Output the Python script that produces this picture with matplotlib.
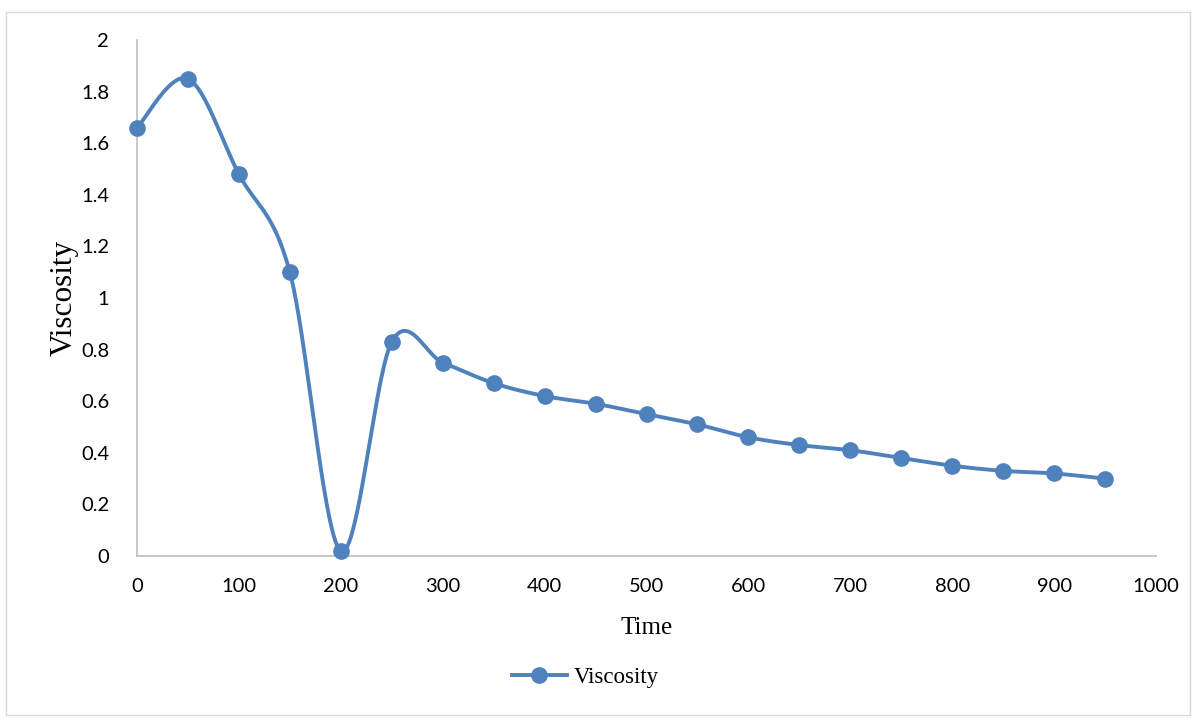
import numpy as np
import matplotlib
matplotlib.use("Agg")
import matplotlib.pyplot as plt
from matplotlib.patches import Rectangle
from matplotlib.lines import Line2D

# Measured viscosity over time
time = [0, 50, 100, 150, 200, 250, 300, 350, 400, 450,
        500, 550, 600, 650, 700, 750, 800, 850, 900, 950]
viscosity = [1.66, 1.85, 1.48, 1.10, 0.02, 0.83, 0.75, 0.67, 0.62, 0.59,
             0.55, 0.51, 0.46, 0.43, 0.41, 0.38, 0.35, 0.33, 0.32, 0.30]

x_ticks = [0, 100, 200, 300, 400, 500, 600, 700, 800, 900, 1000]
y_ticks = [0, 0.2, 0.4, 0.6, 0.8, 1, 1.2, 1.4, 1.6, 1.8, 2]

BLUE = "#4F81BD"
GREY = "#BFBFBF"
TICK_FONT = "Lato"
SERIF = "Liberation Serif"


def smooth_curve(xs, ys, steps=40):
    """Piecewise cubic Bezier through the points (Catmull-Rom tangents)."""
    p = np.column_stack([xs, ys]).astype(float)
    n = len(p)
    out = []
    for i in range(n - 1):
        p0 = p[i - 1] if i > 0 else p[i]
        p1 = p[i]
        p2 = p[i + 1]
        p3 = p[i + 2] if i + 2 < n else p[i + 1]
        c1 = p1 + (p2 - p0) / 6.0
        c2 = p2 - (p3 - p1) / 6.0
        t = np.linspace(0, 1, steps, endpoint=(i == n - 2))[:, None]
        seg = ((1 - t) ** 3) * p1 + 3 * ((1 - t) ** 2) * t * c1 \
            + 3 * (1 - t) * t ** 2 * c2 + t ** 3 * p2
        out.append(seg)
    out = np.vstack(out)
    return out[:, 0], out[:, 1]


fig = plt.figure(figsize=(11.97, 7.22), dpi=100)
fig.patch.set_facecolor("white")

# light chart border
fig.patches.append(Rectangle((6 / 1197, 7 / 722), 1184 / 1197, 703 / 722,
                             transform=fig.transFigure, fill=False,
                             edgecolor="#D9D9D9", linewidth=1.0))

ax = fig.add_axes([137 / 1197, 1 - 556 / 722, (1156 - 137) / 1197, (556 - 40) / 722])

sx, sy = smooth_curve(time, viscosity)
ax.plot(sx, sy, color=BLUE, linewidth=2.8, solid_capstyle="round", zorder=2)
ax.plot(time, viscosity, linestyle="none", marker="o", markersize=11,
        color=BLUE, zorder=3, clip_on=False)

ax.set_xlim(0, 1000)
ax.set_ylim(0, 2)
ax.set_xticks(x_ticks)
ax.set_yticks(y_ticks)
ax.set_xticklabels([str(v) for v in x_ticks], fontfamily=TICK_FONT, fontsize=14.5)
ax.set_yticklabels([f"{v:g}" for v in y_ticks], fontfamily=TICK_FONT, fontsize=14.5)
ax.tick_params(axis="both", length=0, colors="black")
ax.tick_params(axis="x", pad=16)
ax.tick_params(axis="y", pad=20)

for side in ("top", "right"):
    ax.spines[side].set_visible(False)
for side in ("left", "bottom"):
    ax.spines[side].set_color(GREY)
    ax.spines[side].set_linewidth(1.2)

ax.set_xlabel("Time", fontfamily=SERIF, fontsize=18, labelpad=16)
ax.set_ylabel("Viscosity", fontfamily=SERIF, fontsize=22.5, labelpad=2)

handle = Line2D([], [], color=BLUE, linewidth=2.8, marker="o", markersize=11)
fig.legend([handle], ["Viscosity"], loc="center", bbox_to_anchor=(585 / 1197, 1 - 677 / 722),
           frameon=False, prop={"family": SERIF, "size": 16.5}, handlelength=2.4,
           handletextpad=0.3)

fig.savefig("out.png", dpi=100, facecolor="white")
